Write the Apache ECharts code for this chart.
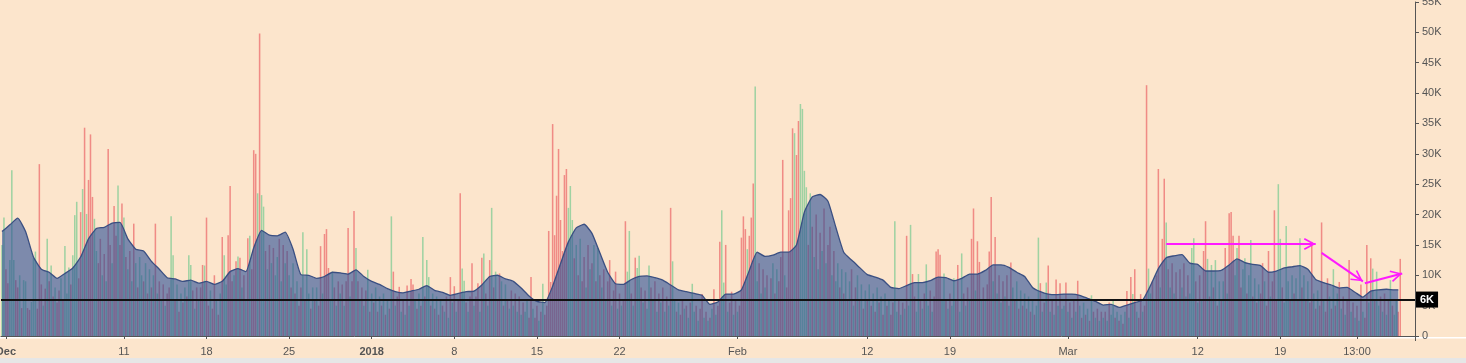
<!DOCTYPE html>
<html><head><meta charset="utf-8">
<script src="https://cdn.jsdelivr.net/npm/echarts@6/dist/echarts.min.js"></script>
<style>html,body{margin:0;padding:0;background:#fce5cc;}#c{width:1466px;height:363px;}</style>
</head><body><div id="c"></div>
<script>
// 4-hour volume bars, in thousands; negative = down (red) bar, positive = up (green) bar
const volPart1 = [15,19.5,-11,-8.7,12.5,27.3,12.5,-9.2,-8,10,-4.6,9.2,9,-4.6,-4.3,5.6,12.8,13.9,-4.5,-28.3,
-8.5,5,-7.8,16,-9,11.6,-6.5,8,-5.5,-7.5,9.5,-6,14.8,7,11.3,-8.5,13.3,19.9,22.1,-9.5,
-20.4,24.2,-34.3,20.1,-25.7,-33.2,-22.9,19.3,14,-12,-16,10,-13.5,9,-30.8,-15,12,-21.4,-16.5,24.8,
-15,-21.8,19.5,-13,11,-14,9,-18.5,12,-8,13,10,-9,12,-7,11,-8,10,-18.5,7,
-9,6,-8.5,5,-7,-8,19.7,13.3,-6,8.5,-4,7,-5.5,8,-6.5,13.3,11.7,-7.5,4.5,-8,
6,-8,-11.7,11.6,-19.5,-5,7.5,-4.5,-10,6,-3.5,7,-16.3,13.3,8.5,-16.6,-24.7,-9,10,-12.3,
13.1,-12.9,8,-10,6,-16.1,16.5,-11,-30.6,-30,23.5,-49.8,23.2,21.3,-14,11,-15,12,-14.5,10,
13,-16,9,-15,12,-14,10,-8,12,-7,9,-5,-8,17.1,-6,14.3,7,-4.5,8,-6,
8,-5,-14.8,7,-16.8,-17.6,-11.2,6,10.6,-8,5,-9,7,-8.5,5,-9,-17.8,6.5,-9,-20.6];
const volPart2 = [14.5,-9,6,-8,5,-7.5,10.9,-4,7,-5.5,8,-4,6.5,-5,7,-3.5,6,-4.5,19.7,-10.6,
5,-6.5,-8.1,4,-6,3.5,-8.3,5,-9.4,-8.5,6,-4.5,7,-5,16.3,-6.5,12.5,9.7,-5,7,
-4.5,6.5,-3.5,6,-5,4,-6.5,3,-9.7,5.5,-8.2,4,-6,-23.5,11.1,9.1,-5.5,4,-6.5,-12,
5,-6.5,-8.7,4,-12.9,13.6,-7,5,-12.5,21.1,-8,10.6,-6,-10.3,9,-5,8.5,-6,4.5,-7.5,
5,-7,4,-6.5,3.5,-5.5,4,6,-3,-9.7,4.5,-3,-5,2.5,-4,8.6,-3.5,-5,-17.3,-8.9,
-34.9,-16.6,-23.1,-30.8,-19.1,-14,-26.5,-27.5,21.1,24.7,19.1,-12.8,15,-10,16,-9,-13,8,-15,11,
-12,15,-9,14.5,-10,8,-11,6,-9,-12.5,5,-7.5,-10.6,4.5,-7,5,-6,-18.9,10.6,17.3,
-7,5,-12.9,11.2,13.2,-8,5.5,-7.5,4.5,11.6,-8,6,-9,4,-7,5.5,-8,4,-6.5,5,
-21.1,12.3,6,-4,5.5,-3.5,-6,4.5,-5,3,-5.5,8.6,4,-5,2.5,-4.5,-6.9,3,-4,2.5];
const volPart3 = [-3,4.5,-7.7,3.5,-5,-15.5,20.7,8.8,-15,4,-5.5,-7.3,3.5,-6,4,-5,-16.2,-19.7,-17.6,14.3,
-16.5,-19.5,-25.1,41.1,9,-12,7,-11,8,-10,6,-9.5,12,-7,11,-9,-13,-29,10,-8,
-20.7,-22.7,-34.2,33.4,-29.8,-35.4,38.2,37.4,27.2,24.5,-15,23.5,-18,13,-20,11,-17,14,-21,12,
-15,-18,10,-14,9,12,-8,11,-7,10.5,-6,9,-11,5,-8,10,-6,8.5,-4.5,7.5,
-6,8.5,-5,7,-4,8,-5.5,6.5,-3.5,7,-5,6,-3.5,-5.5,18.9,4,-6,3.5,-5.5,4.5,
-16.5,5,18.3,-10.2,-6.5,4,10.2,-6,4.5,-7,11.8,5,-7.5,4,-6.5,-13.9,-14.3,-13.4,6,10.3,
-6,4.5,-7,5,9.5,-6,-11.7,4,13.6,-7,5,-8,6,-16,-21,7.5,-15.6,-12.2,6,-8,
6,-8.5,-13.9,-22.9,9,-16.3,7,-10,5.5,-9,6.5,-10,5,-12.1,8,-6,9,-4.5,7.5,-5,
7,-4.5,6.5,-4,6,-3.5,5,16.2,-8.7,4,-5.5,8.8,-11.6,4,-6,3.5,-9.3,5,-8.7,4.5];
const volPart4 = [5,-8.8,4,-5.5,3,-6,4,-9.1,5,-3,5.5,-3.5,4.5,-2.5,6.7,-4,3,-4.5,2.5,-4,
3,-4,2.5,-5.5,3.5,5.8,-3,4,-2.5,3.5,-2,4,-7.4,3,-9.7,6.9,-11,4,-3,-6.9,
4,-5,-41.3,11.1,7,-9,6,-10,-27.5,8,-16,-25.9,18.7,-11,8,-12,7,-10.5,6,-11,
8,-12,6.5,-10,7,14.5,16.1,-9,5.5,-10,6,-14,-18.9,12.7,-6.5,11.7,-8,12.5,-5,9,
-6,9,-14.5,7,-20.2,-20.4,-16.5,10,14.5,-16.5,-8,11,12.8,-7,10,15.8,-6.5,9.5,-5.5,8.5,
-7,-12,9,-5,-14,6.5,-9,-20.7,-6,25,16,-8,5.5,18.1,9,-6,10,-7,9.5,-6,
16.1,-8,10,-6,9,-5.5,-15.5,7,-4.5,7.5,-5,-18.7,6,-4,-9.5,6.5,-4.5,11,-5,7,
-8.9,4.5,-6.5,3.5,-6,-12.5,4,-5.5,3,-5,2.5,-8.5,4,-3,-15,5.5,-12.8,11.1,-6,10.6,
5,-6.5,4,-7,3.5,-6,9.2,-5,3.5,6,-4,-12.7];
// volume moving average, in thousands, one value every 4 bars (last value = final bar of the average)
const maVol = [17.2,18.3,19.4,17.2,13.0,11.0,10.5,9.5,10.3,11.2,13.0,16.0,17.7,17.9,18.6,18.7,16.0,14.3,14.0,12.3,
11.0,9.6,9.4,9.0,9.2,8.7,9.0,8.5,9.0,10.6,11.1,10.6,14.5,17.4,16.6,16.5,17.1,14.3,10.1,10.0,
9.5,9.8,10.5,10.4,10.2,
10.9,9.8,9.0,8.5,7.8,7.3,7.1,7.4,7.7,8.3,7.5,7.2,6.7,7.0,7.3,7.4,8.4,9.8,10.0,9.4,
9.0,7.9,6.6,5.7,5.5,8.2,11.9,15.5,17.8,18.4,16.9,13.7,10.5,8.6,8.5,9.3,9.8,9.9,9.6,9.2,
8.4,7.6,7.3,7.0,6.7,
5.2,5.6,6.9,6.9,7.6,10.8,13.8,13.1,13.3,13.8,13.8,15.0,20.4,22.9,23.3,22.2,17.9,13.8,12.5,11.3,
10.1,9.7,9.2,8.0,7.8,8.3,8.8,8.8,9.1,9.7,9.6,9.1,9.5,10.2,10.2,10.8,11.7,11.7,11.3,10.5,
9.8,8.0,7.3,6.9,6.8,
6.9,6.9,6.7,6.2,5.7,5.1,5.2,4.7,5.1,5.5,5.9,8.3,11.1,12.9,13.2,13.4,12.0,11.8,10.7,10.7,
10.8,11.7,12.7,12.1,11.8,11.6,10.5,10.7,11.2,11.4,11.6,11.0,9.3,8.8,8.4,7.9,8.0,7.2,6.4,7.4,
7.6,7.7,7.6,7.6];
const MA_STEP = 4;
const levelLine = 6; // horizontal level, thousands
const yTickMax = 55, yTickStep = 5;
const xTicks = [['2017-12-01 01:00','Dec'],['2017-12-11 01:00','11'],['2017-12-18 01:00','18'],['2017-12-25 01:00','25'],
['2018-01-01 01:00','2018'],['2018-01-08 01:00','8'],['2018-01-15 01:00','15'],['2018-01-22 01:00','22'],
['2018-02-01 01:00','Feb'],['2018-02-12 01:00','12'],['2018-02-19 01:00','19'],['2018-03-01 01:00','Mar'],
['2018-03-12 01:00','12'],['2018-03-19 01:00','19'],['2018-03-25 13:00','13:00']];
const boldTicks = ['Dec','2018'];
// annotation arrows: [startBar, startValue, endBar, endValue]
const arrows = [[592,15.15,668,15.15],[671,13.7,692,9.0],[693,8.7,712,10.3]];

const vols = volPart1.concat(volPart2, volPart3, volPart4);
const START = Date.UTC(2017,10,30,17);
const H4 = 4*3600*1000;
const N_CAT = 719;
const p2 = n => String(n).padStart(2,'0');
function fmt(t){const d=new Date(t);return d.getUTCFullYear()+'-'+p2(d.getUTCMonth()+1)+'-'+p2(d.getUTCDate())+' '+p2(d.getUTCHours())+':00';}
const cats = Array.from({length:N_CAT},(_,i)=>fmt(START+i*H4));
const tickMap = {}; xTicks.forEach(t=>tickMap[t[0]]=t[1]);
const isTick = (i, v) => tickMap[v] !== undefined;

const RED = '#f08b85', GREEN = '#9fd2a2';
const barData = vols.map(v=>({value:Math.abs(v), itemStyle:{color: v<0?RED:GREEN}}));
const maData = maVol.map((v,k)=>[Math.min(k*MA_STEP, vols.length-2), v]);
const FONT = 'Liberation Sans, Arial, sans-serif';
const chevron = 'path://M0,-11.8L0.01,-11.8L0,-11.79Z M0,0L6,11L4.6,11.8L0,3.4L-4.6,11.8L-6,11Z';

const chart = echarts.init(document.getElementById('c'));
chart.setOption({
  backgroundColor:'#fce5cc',
  animation:false,
  grid:{left:1,right:51,top:2,bottom:27,containLabel:false,outerBoundsMode:'none'},
  xAxis:{type:'category', data:cats, boundaryGap:true, offset:4,
    axisLine:{lineStyle:{color:'#555',width:1}},
    axisTick:{show:true, alignWithLabel:true, length:3, interval:isTick, lineStyle:{color:'#555'}},
    axisLabel:{interval:isTick, color:'#555', fontSize:11, fontFamily:FONT, margin:6, hideOverlap:false,
      alignMinLabel:'center', alignMaxLabel:'center',
      formatter:v=>{const l=tickMap[v]; if(l===undefined) return ''; return boldTicks.includes(l)?'{b|'+l+'}':l;},
      rich:{b:{fontWeight:'bold', color:'#555', fontSize:11, fontFamily:FONT}}},
    splitLine:{show:false}},
  yAxis:{type:'value', position:'right', min:0, max:yTickMax, interval:yTickStep,
    axisLine:{show:true, lineStyle:{color:'#555'}},
    axisTick:{show:true, length:4, lineStyle:{color:'#555'}},
    axisLabel:{color:'#555', fontSize:11, fontFamily:FONT, margin:7, formatter:v=>v===0?'0':v+'K'},
    splitLine:{show:false}},
  series:[
    {type:'bar', data:barData, barCategoryGap:'22%', z:2, silent:true,
     markLine:{silent:true, animation:false, symbol:['none',chevron], symbolSize:[12,23.6],
       lineStyle:{color:'#ff1aff', width:2, type:'solid'}, label:{show:false}, emphasis:{disabled:true},
       data:arrows.map(a=>[{coord:[a[0],a[1]]},{coord:[a[2],a[3]]}])}},
    {type:'line', data:maData, z:3, silent:true, symbol:'none', smooth:0.15,
     lineStyle:{color:'#3a4f82', width:1.3},
     areaStyle:{color:'rgba(40,77,150,0.6)', opacity:1},
     markLine:{silent:true, animation:false, symbol:['none','none'],
       lineStyle:{color:'#111', width:2, type:'solid'}, emphasis:{disabled:true},
       label:{show:true, position:'end', formatter:levelLine+'K', color:'#fff', backgroundColor:'#000',
         padding:[3,4,2,4], fontWeight:'bold', fontSize:11, fontFamily:FONT, distance:1},
       data:[{yAxis:levelLine}]}}
  ],
  graphic:[
    {type:'rect', silent:true, shape:{x:0,y:337,width:1466,height:1.5}, style:{fill:'#ffffff'}},
    {type:'rect', silent:true, shape:{x:0,y:358,width:1466,height:5}, style:{fill:'#e6e6e6'}},
    {type:'line', silent:true, shape:{x1:1415.5,y1:336,x2:1415.5,y2:341}, style:{stroke:'#555',lineWidth:1}}
  ]
});
</script></body></html>
